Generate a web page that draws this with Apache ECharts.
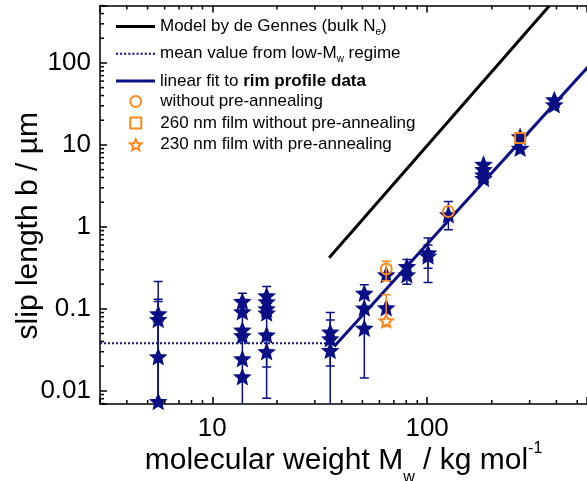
<!DOCTYPE html>
<html>
<head>
<meta charset="utf-8">
<script src="https://cdn.jsdelivr.net/npm/echarts@6/dist/echarts.min.js"></script>
<style>
html, body { margin: 0; padding: 0; background: #fff; }
#chart { width: 587px; height: 481px; }
</style>
</head>
<body>
<div id="chart"></div>
<script>
'use strict';

var FONT = '"Liberation Sans", Arial, sans-serif';
var NAVY = '#0b0f86';
var ORANGE = '#fb8a1e';

// axis ranges (log)
var xRange = [3, 555];
var yRange = [0.0069, 502];

// lines
var modelX = [35, 370];
var modelY = [0.42, 496];
var meanX = [3, 35];
var meanY = [0.038, 0.038];
var fitX = [37, 560];
var fitY = [0.035, 89];

// rim profile data (navy stars)
var starX = [5.6, 5.6, 5.6, 5.6,
    13.8, 13.8, 13.8, 13.8, 13.8, 13.8,
    17.9, 17.9, 17.9, 17.9, 17.9, 17.9,
    35.4, 35.4, 35.4,
    51, 51, 51,
    64.5, 64.5,
    80.5, 80.5,
    101, 101,
    125.6,
    183, 183, 183, 183,
    271, 271,
    391, 391];
var starY = [0.087, 0.074, 0.026, 0.0074,
    0.123, 0.092, 0.055, 0.047, 0.0245, 0.0148,
    0.144, 0.122, 0.10, 0.089, 0.048, 0.030,
    0.052, 0.043, 0.031,
    0.155, 0.102, 0.058,
    0.26, 0.103,
    0.328, 0.26,
    0.48, 0.44,
    1.40,
    5.8, 5.0, 4.3, 3.9,
    12.6, 9.1,
    35.4, 30.8];

// navy error bars
var errX  = [5.6, 5.6, 5.6, 13.8, 17.9, 17.9, 35.4, 35.4, 51, 80.5, 101, 101, 125.6];
var errLo = [0.001, 0.001, 0.001, 0.001, 0.0081, 0.0195, 0.001, 0.02, 0.0143, 0.20, 0.21, 0.313, 0.92];
var errHi = [0.215, 0.131, 0.123, 0.155, 0.187, 0.045, 0.090, 0.073, 0.196, 0.40, 0.73, 0.60, 2.04];

// orange points
var circleX = [64.5, 125.6];
var circleY = [0.307, 1.54];
var squareX = [271];
var squareY = [12.1];
var oStarX = [64.5];
var oStarY = [0.0714];
var oErrX  = [64.5, 64.5];
var oErrLo = [0.22, 0.061];
var oErrHi = [0.38, 0.148];

var NAME_MODEL = 'model';
var NAME_MEAN = 'mean';
var NAME_FIT = 'fit';
var NAME_CIRCLE = 'circle';
var NAME_SQUARE = 'square';
var NAME_OSTAR = 'ostar';

var legendText = {};
legendText[NAME_MODEL] = '{t|Model by de Gennes (bulk N}{s|e}{t|)}';
legendText[NAME_MEAN] = '{t|mean value from low-M}{s|w}{t| regime}';
legendText[NAME_FIT] = '{t|linear fit to }{b|rim profile data}';
legendText[NAME_CIRCLE] = 'without pre-annealing';
legendText[NAME_SQUARE] = '260 nm film without pre-annealing';
legendText[NAME_OSTAR] = '230 nm film with pre-annealing';

function zip(xs, ys) {
    var out = [];
    for (var i = 0; i < xs.length; i++) out.push([xs[i], ys[i]]);
    return out;
}
function zip3(xs, lo, hi) {
    var out = [];
    for (var i = 0; i < xs.length; i++) out.push([xs[i], lo[i], hi[i]]);
    return out;
}

function starPath(inner) {
    var s = 'path://';
    for (var i = 0; i < 10; i++) {
        var a = (-90 + 36 * i) * Math.PI / 180;
        var r = i % 2 ? inner : 1;
        s += (i ? 'L' : 'M') + (50 + 50 * r * Math.cos(a)).toFixed(2) + ' ' + (50 + 50 * r * Math.sin(a)).toFixed(2);
    }
    return s + 'Z';
}
var STAR = starPath(0.45);
var SQUARE = 'path://M0 0H10V10H0Z';

// legend line icons
var SOLID_ICON = 'path://M0 0H39V3H0Z';
var DOT_ICON = (function () {
    var s = 'path://';
    for (var x = 0; x < 38; x += 4) s += 'M' + x + ' 0h2v2h-2Z';
    return s;
})();

function isDecade(v) {
    var e = Math.log10(v);
    return Math.abs(e - Math.round(e)) < 1e-6;
}
function decadeLabel(v) {
    return isDecade(v) ? String(+v.toPrecision(3)) : '';
}

function minorValues(range) {
    var out = [];
    for (var d = -4; d <= 4; d++) {
        for (var m = 2; m <= 9; m++) {
            var v = m * Math.pow(10, d);
            if (v > range[0] && v < range[1]) out.push(v);
        }
    }
    return out;
}

function errorBars(color) {
    return function (params, api) {
        var x = api.value(0);
        var top = api.coord([x, api.value(2)]);
        var bot = api.coord([x, api.value(1)]);
        var w = 4.5;
        var st = { stroke: color, lineWidth: 1.5, fill: null };
        return {
            type: 'group',
            children: [
                { type: 'line', shape: { x1: top[0], y1: top[1], x2: bot[0], y2: bot[1] }, style: st },
                { type: 'line', shape: { x1: top[0] - w, y1: top[1], x2: top[0] + w, y2: top[1] }, style: st },
                { type: 'line', shape: { x1: bot[0] - w, y1: bot[1], x2: bot[0] + w, y2: bot[1] }, style: st }
            ]
        };
    };
}

var tickStyle = { stroke: '#000', lineWidth: 1.5 };

var chart = echarts.init(document.getElementById('chart'), null, { renderer: 'canvas' });

var richLegend = {
    t: { fontSize: 17, fontFamily: FONT, color: '#000', lineHeight: 22 },
    b: { fontSize: 17, fontFamily: FONT, color: '#000', fontWeight: 'bold', lineHeight: 22 },
    s: { fontSize: 10, fontFamily: FONT, color: '#000', padding: [12, 0, 0, 0] }
};

var option = {
    animation: false,
    backgroundColor: '#fff',
    grid: { left: 100, right: 0, top: 5.5, bottom: 77, containLabel: false, outerBoundsMode: 'none' },
    legend: [{
        orient: 'vertical',
        left: 116,
        top: 18,
        padding: 0,
        itemWidth: 39,
        itemHeight: 14,
        itemGap: 7.7,
        itemTextGap: 5,
        data: [
            { name: NAME_MODEL, icon: SOLID_ICON },
            { name: NAME_MEAN, icon: DOT_ICON },
            { name: NAME_FIT, icon: SOLID_ICON }
        ],
        formatter: function (n) { return legendText[n]; },
        textStyle: { fontSize: 17, fontFamily: FONT, color: '#000', rich: richLegend },
        selectedMode: false
    }, {
        orient: 'vertical',
        left: 129,
        top: 93,
        padding: 0,
        itemWidth: 39,
        itemHeight: 11,
        itemGap: 4.6,
        itemTextGap: 5,
        data: [
            { name: NAME_CIRCLE },
            { name: NAME_SQUARE, icon: SQUARE },
            { name: NAME_OSTAR }
        ],
        formatter: function (n) { return legendText[n]; },
        textStyle: { fontSize: 17, fontFamily: FONT, color: '#000', lineHeight: 16 },
        selectedMode: false
    }],
    xAxis: [{
        type: 'log',
        logBase: 10,
        min: xRange[0],
        max: xRange[1],
        position: 'bottom',
        name: 'molecular weight M{s|w} / kg mol{p|-1}',
        nameLocation: 'middle',
        nameGap: 32,
        nameMoveOverlap: false,
        nameTextStyle: {
            fontSize: 30, fontFamily: FONT, color: '#000',
            rich: {
                s: { fontSize: 16, fontFamily: FONT, color: '#000', padding: [34, 0, 0, 0] },
                p: { fontSize: 16, fontFamily: FONT, color: '#000', padding: [0, 0, 24, 0] }
            }
        },
        axisLine: { show: true, lineStyle: { color: '#000', width: 1.5 } },
        axisTick: { show: true, inside: true, length: 7, lineStyle: { color: '#000', width: 1.5 } },
        axisLabel: { fontSize: 26, fontFamily: FONT, color: '#000', margin: 12, formatter: decadeLabel },
        splitLine: { show: false }
    }, {
        type: 'log',
        logBase: 10,
        min: xRange[0],
        max: xRange[1],
        position: 'top',
        axisLine: { show: true, lineStyle: { color: '#000', width: 1.5 } },
        axisTick: { show: true, inside: true, length: 7, lineStyle: { color: '#000', width: 1.5 } },
        axisLabel: { show: false },
        splitLine: { show: false }
    }],
    yAxis: [{
        type: 'log',
        logBase: 10,
        min: yRange[0],
        max: yRange[1],
        position: 'left',
        name: 'slip length b / µm',
        nameLocation: 'middle',
        nameGap: 56,
        nameMoveOverlap: false,
        nameTextStyle: { fontSize: 30, fontFamily: FONT, color: '#000', padding: [0, 42, 0, 0] },
        axisLine: { show: true, lineStyle: { color: '#000', width: 1.5 } },
        axisTick: { show: true, inside: true, length: 7, lineStyle: { color: '#000', width: 1.5 } },
        axisLabel: { fontSize: 26, fontFamily: FONT, color: '#000', margin: 9, formatter: decadeLabel },
        splitLine: { show: false }
    }],
    series: [
        {
            name: NAME_MODEL, type: 'line', data: zip(modelX, modelY),
            symbol: 'none', lineStyle: { color: '#000', width: 3 }, itemStyle: { color: '#000' }, z: 2
        },
        {
            name: NAME_MEAN, type: 'line', data: zip(meanX, meanY),
            symbol: 'none', lineStyle: { color: NAVY, width: 2, type: [2, 2] }, itemStyle: { color: NAVY }, z: 2
        },
        {
            name: NAME_FIT, type: 'line', data: zip(fitX, fitY),
            symbol: 'none', lineStyle: { color: NAVY, width: 3 }, itemStyle: { color: NAVY }, z: 2
        },
        {
            type: 'custom', data: zip3(errX, errLo, errHi), renderItem: errorBars(NAVY),
            clip: true, silent: true, z: 3
        },
        {
            name: 'rim', type: 'scatter', data: zip(starX, starY),
            symbol: STAR, symbolSize: 15, symbolKeepAspect: true,
            itemStyle: { color: NAVY, borderColor: NAVY, borderWidth: 1.5, opacity: 1 }, z: 4
        },
        {
            type: 'custom', data: zip3(oErrX, oErrLo, oErrHi), renderItem: errorBars(ORANGE),
            clip: true, silent: true, z: 5
        },
        {
            name: NAME_CIRCLE, type: 'scatter', data: zip(circleX, circleY),
            symbol: 'circle', symbolSize: 11,
            itemStyle: { color: 'rgba(255,255,255,0)', borderColor: ORANGE, borderWidth: 2, opacity: 1 }, z: 6
        },
        {
            name: NAME_SQUARE, type: 'scatter', data: zip(squareX, squareY),
            symbol: SQUARE, symbolSize: 10,
            itemStyle: { color: 'rgba(255,255,255,0)', borderColor: ORANGE, borderWidth: 2, opacity: 1 }, z: 6
        },
        {
            name: NAME_OSTAR, type: 'scatter', data: zip(oStarX, oStarY),
            symbol: STAR, symbolSize: 13, symbolKeepAspect: true,
            itemStyle: { color: '#fff', borderColor: ORANGE, borderWidth: 2, opacity: 1 }, z: 6
        },
        {
            // minor ticks, bottom and top
            type: 'custom', silent: true, z: 10,
            data: minorValues(xRange).map(function (v) { return [v, 1]; }),
            renderItem: function (params, api) {
                var cs = params.coordSys;
                var px = api.coord([api.value(0), 1])[0];
                return {
                    type: 'group', children: [
                        { type: 'line', shape: { x1: px, y1: cs.y + cs.height, x2: px, y2: cs.y + cs.height - 4 }, style: tickStyle },
                        { type: 'line', shape: { x1: px, y1: cs.y, x2: px, y2: cs.y + 4 }, style: tickStyle }
                    ]
                };
            }
        },
        {
            // minor ticks, left
            type: 'custom', silent: true, z: 10,
            data: minorValues(yRange).map(function (v) { return [10, v]; }),
            renderItem: function (params, api) {
                var cs = params.coordSys;
                var py = api.coord([10, api.value(1)])[1];
                return {
                    type: 'line', shape: { x1: cs.x, y1: py, x2: cs.x + 4, y2: py }, style: tickStyle
                };
            }
        }
    ]
};

chart.setOption(option);
</script>
</body>
</html>
